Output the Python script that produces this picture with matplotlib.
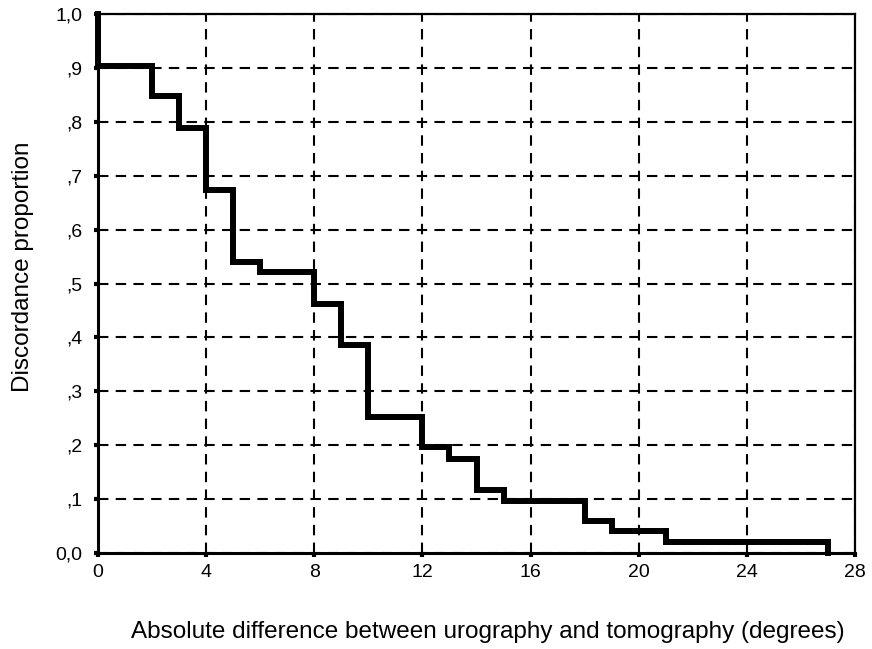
import matplotlib.pyplot as plt

plt.rcParams['font.family'] = ['Liberation Sans', 'DejaVu Sans']

# step points (Kaplan-Meier style curve)
diff_deg = [0, 0, 2, 3, 4, 5, 6, 8, 9, 10, 12, 13, 14, 15, 18, 19, 21, 27]
discord = [1.0, 0.904, 0.848, 0.789, 0.673, 0.540, 0.521, 0.462, 0.386,
           0.252, 0.197, 0.175, 0.116, 0.097, 0.060, 0.041, 0.021, 0.0]

x_ticks = [0, 4, 8, 12, 16, 20, 24, 28]
y_ticks = [0.0, 0.1, 0.2, 0.3, 0.4, 0.5, 0.6, 0.7, 0.8, 0.9, 1.0]
y_labels = ["0,0", ",1", ",2", ",3", ",4", ",5", ",6", ",7", ",8", ",9", "1,0"]

fig = plt.figure(figsize=(8.72, 6.49), dpi=100)
ax = fig.add_axes([0.1124, 0.1479, 0.8681, 0.8305])

ax.step(diff_deg, discord, where='post', color='black', lw=4.3, clip_on=False,
        solid_joinstyle='miter', zorder=3)

ax.set_xlim(0, 28)
ax.set_ylim(0, 1.0)
ax.set_xticks(x_ticks)
ax.set_yticks(y_ticks)
ax.set_yticklabels(y_labels)
ax.tick_params(direction='out', length=3, width=3, labelsize=14)
ax.tick_params(axis='y', pad=8)
ax.tick_params(axis='x', pad=5)

ax.grid(True, color='black', linestyle=(0, (5, 3.5)), lw=1.5)
for s in ax.spines.values():
    s.set_linewidth(1.6)
ax.spines['left'].set_linewidth(2.2)
ax.spines['bottom'].set_linewidth(2.2)

fig.text(0.026, 0.589, "Discordance proportion", rotation=90,
         ha='center', va='center', fontsize=17.5)
fig.text(0.559, 0.017, "Absolute difference between urography and tomography (degrees)",
         ha='center', va='baseline', fontsize=17.5)

fig.savefig("out.png", dpi=100)
